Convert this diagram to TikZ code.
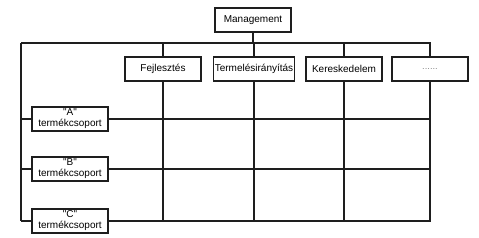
\documentclass[tikz,border=0pt]{standalone}
\usepackage{fontspec}
\setmainfont{Liberation Sans}
\usepackage{xcolor}
\usetikzlibrary{backgrounds}
\definecolor{LineBlack}{HTML}{1E1E1E}
\definecolor{DotGrey}{HTML}{8A8A8A}

\begin{document}
\begin{tikzpicture}[x=0.75pt, y=-0.75pt,
    font=\fontsize{7.5}{8.3}\selectfont,
    box/.style={draw=LineBlack, fill=white, line width=0.9pt,
      minimum width=57pt, minimum height=18pt, inner xsep=1pt, inner ysep=0pt,
      align=center},
    grid/.style={draw=LineBlack, line width=0.9pt}]
  \useasboundingbox (0,0) rectangle (479,237);

  % top of the matrix
  \node[box] (mgmt) at (253,20) {Management};
  \coordinate (busL) at (21,43);
  \coordinate (busR) at (431,43);
  \coordinate (baseL) at (21,221);

  % functions
  \node[box] (fejl) at (163,69) {Fejlesztés};
  \node[box] (term) at (254,69) {Termelésirányítás};
  \node[box] (kere) at (344,69) {Kereskedelem};
  \node[box] (etc)  at (430,69) {\color{DotGrey}\scriptsize ......};

  % product groups
  \node[box] (grpA) at (70,119) {\textquotedbl A\textquotedbl\\termékcsoport};
  \node[box] (grpB) at (70,169) {\textquotedbl B\textquotedbl\\termékcsoport};
  \node[box] (grpC) at (70,221) {\textquotedbl C\textquotedbl\\termékcsoport};

  \begin{scope}[on background layer]
    \draw[grid] (mgmt.south) -- (mgmt.south |- busL);
    \draw[grid] (busL) -- (busR);
    \draw[grid] (busL) -- (baseL);
    \foreach \col in {fejl, term, kere, etc}
      \draw[grid] (\col |- busL) -- (\col |- baseL);
    \foreach \row in {grpA, grpB, grpC}
      \draw[grid] (busL |- \row) -- (busR |- \row);
  \end{scope}
\end{tikzpicture}
\end{document}
